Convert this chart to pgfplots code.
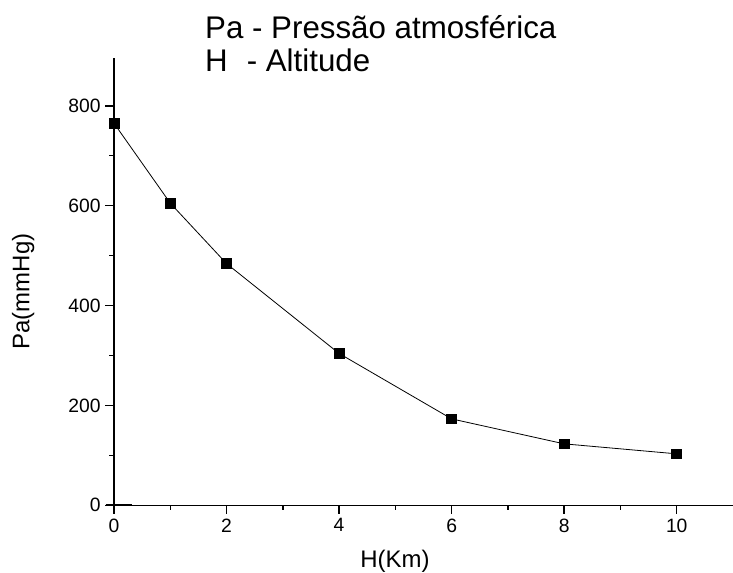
\documentclass[border=0pt]{standalone}
\usepackage{fontspec}
\setmainfont{Liberation Sans}
\usepackage{pgfplots}
\pgfplotsset{compat=1.18}

\begin{document}
\begin{tikzpicture}
  \useasboundingbox (-85.65pt,-50.25pt) rectangle (464.9pt,379.5pt);
  \begin{axis}[
      at={(0,0)}, anchor=south west,
      scale only axis,
      width=464.9pt, height=336pt,
      xmin=0, xmax=11,
      ymin=0, ymax=896,
      axis lines*=left,
      axis line style={-, line width=1.1pt},
      xtick={0,2,4,6,8,10},
      ytick={0,200,400,600,800},
      minor x tick num=1,
      minor y tick num=1,
      tick align=outside,
      major tick length=6.5pt,
      minor tick length=3.5pt,
      every tick/.style={black, line width=1.1pt},
      xticklabel style={font=\fontsize{14.5}{17}\selectfont},
      yticklabel style={font=\fontsize{14.5}{17}\selectfont},
      /pgf/number format/assume math mode=true,
      xlabel={H(Km)},
      ylabel={Pa(mmHg)},
      xlabel style={font=\fontsize{18}{21}\selectfont,
                    at={(axis description cs:0.454,0)}, anchor=base, yshift=-47pt},
      ylabel style={font=\fontsize{18}{21}\selectfont,
                    at={(axis description cs:0,0.478)}, anchor=base, yshift=63.5pt},
      clip=false,
    ]

    % pressao x altitude
    \addplot[black, line width=0.6pt, mark=square*, mark size=3.7pt,
             mark options={solid, fill=black}] coordinates {
        (0,765)
        (1,605)
        (2,484)
        (4,304)
        (6,173)
        (8,123)
        (10,103)
    };

    \draw[line width=1.5pt] (axis cs:-0.15,0) -- (axis cs:0.32,0);
  \end{axis}

  \node[anchor=base west, font=\fontsize{23.5}{27}\selectfont, inner sep=0pt]
    at (68.25pt,350.25pt) {Pa - Pressão atmosférica};
  \node[anchor=base west, font=\fontsize{23.5}{27}\selectfont, inner sep=0pt]
    at (68.25pt,325.5pt) {H};
  \node[anchor=base west, font=\fontsize{23.5}{27}\selectfont, inner sep=0pt]
    at (99.5pt,325.5pt) {- Altitude};
\end{tikzpicture}
\end{document}
